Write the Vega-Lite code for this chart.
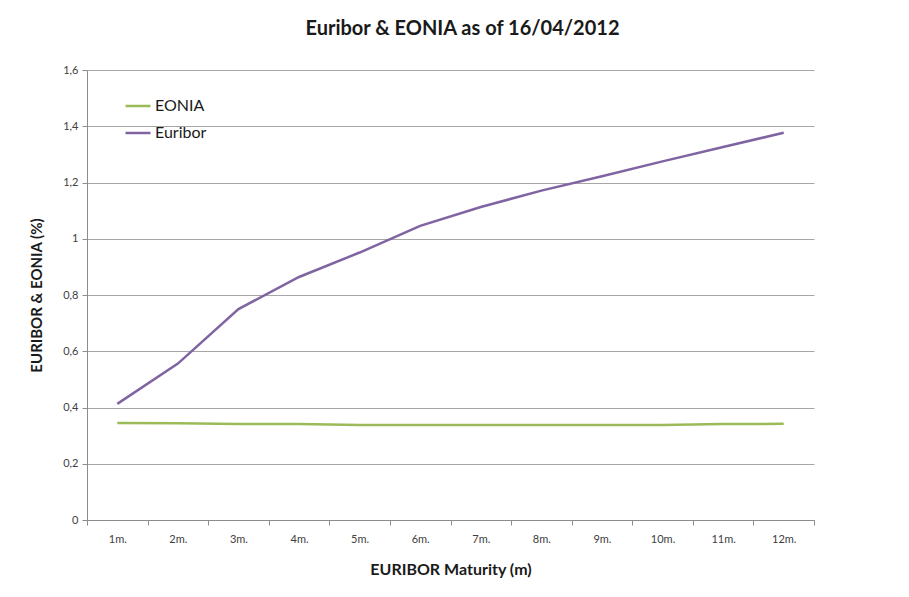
{
  "$schema": "https://vega.github.io/schema/vega-lite/v6.json",
  "autosize": "none",
  "width": 727,
  "height": 450,
  "padding": {"left": 87, "top": 70, "right": 95, "bottom": 77},
  "background": "white",
  "title": {
    "text": "Euribor & EONIA as of 16/04/2012",
    "font": "Lato",
    "fontSize": 20,
    "fontWeight": "bold",
    "color": "#1a1a1a",
    "anchor": "middle",
    "dx": 12,
    "offset": 25
  },
  "data": {
    "values": [
      {"m": "1m.", "series": "EONIA", "value": 0.345},
      {"m": "2m.", "series": "EONIA", "value": 0.344},
      {"m": "3m.", "series": "EONIA", "value": 0.341},
      {"m": "4m.", "series": "EONIA", "value": 0.341},
      {"m": "5m.", "series": "EONIA", "value": 0.338},
      {"m": "6m.", "series": "EONIA", "value": 0.338},
      {"m": "7m.", "series": "EONIA", "value": 0.338},
      {"m": "8m.", "series": "EONIA", "value": 0.338},
      {"m": "9m.", "series": "EONIA", "value": 0.338},
      {"m": "10m.", "series": "EONIA", "value": 0.338},
      {"m": "11m.", "series": "EONIA", "value": 0.341},
      {"m": "12m.", "series": "EONIA", "value": 0.342},
      {"m": "1m.", "series": "Euribor", "value": 0.413},
      {"m": "2m.", "series": "Euribor", "value": 0.556},
      {"m": "3m.", "series": "Euribor", "value": 0.750},
      {"m": "4m.", "series": "Euribor", "value": 0.864},
      {"m": "5m.", "series": "Euribor", "value": 0.951},
      {"m": "6m.", "series": "Euribor", "value": 1.046},
      {"m": "7m.", "series": "Euribor", "value": 1.113},
      {"m": "8m.", "series": "Euribor", "value": 1.171},
      {"m": "9m.", "series": "Euribor", "value": 1.222},
      {"m": "10m.", "series": "Euribor", "value": 1.275},
      {"m": "11m.", "series": "Euribor", "value": 1.326},
      {"m": "12m.", "series": "Euribor", "value": 1.377}
    ]
  },
  "mark": {"type": "line", "strokeWidth": 2.5},
  "encoding": {
    "x": {
      "field": "m",
      "type": "ordinal",
      "sort": null,
      "bandPosition": 0.5,
      "scale": {"type": "band", "paddingInner": 0, "paddingOuter": 0},
      "axis": {
        "title": "EURIBOR Maturity (m)",
        "titleFont": "Lato",
        "titleFontSize": 16,
        "titleFontWeight": "bold",
        "titleColor": "#1a1a1a",
        "titlePadding": 17,
        "labelFont": "Lato",
        "labelFontSize": 11,
        "labelColor": "#404040",
        "labelAngle": 0,
        "labelPadding": 8,
        "tickBand": "extent",
        "tickSize": 5,
        "tickColor": "#8c8c8c",
        "domainColor": "#8c8c8c",
        "grid": false
      }
    },
    "y": {
      "field": "value",
      "type": "quantitative",
      "scale": {"domain": [0, 1.6]},
      "axis": {
        "title": "EURIBOR & EONIA (%)",
        "titleFont": "Lato",
        "titleFontSize": 15,
        "titleFontWeight": "bold",
        "titleColor": "#1a1a1a",
        "titlePadding": 18,
        "values": [0, 0.2, 0.4, 0.6, 0.8, 1, 1.2, 1.4, 1.6],
        "format": "~g",
        "labelExpr": "replace(datum.label, '.', ',')",
        "labelFont": "Lato",
        "labelFontSize": 11,
        "labelColor": "#404040",
        "labelPadding": 4,
        "tickSize": 5,
        "tickColor": "#8c8c8c",
        "domainColor": "#8c8c8c",
        "gridColor": "#a6a6a6",
        "gridWidth": 1
      }
    },
    "color": {
      "field": "series",
      "type": "nominal",
      "scale": {"domain": ["EONIA", "Euribor"], "range": ["#9BBB59", "#8064A2"]},
      "legend": {
        "title": null,
        "orient": "none",
        "legendX": 37,
        "legendY": 22,
        "symbolType": "stroke",
        "symbolSize": 625,
        "symbolStrokeWidth": 2.5,
        "labelFont": "Lato",
        "labelFontSize": 16,
        "labelColor": "#1a1a1a",
        "labelOffset": 3,
        "rowPadding": 5
      }
    }
  },
  "config": {"view": {"stroke": null}}
}
